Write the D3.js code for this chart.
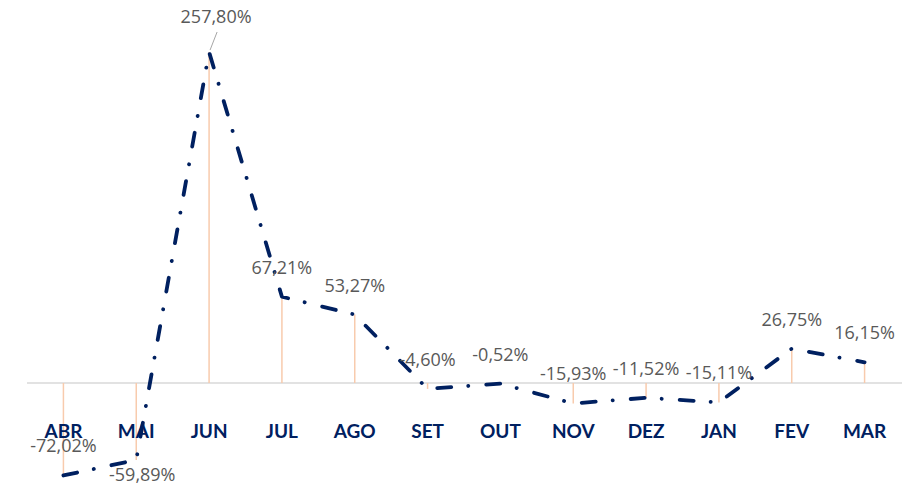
<!DOCTYPE html>
<html>
<head>
<meta charset="utf-8">
<script src="https://cdn.jsdelivr.net/npm/d3@7"></script>
<style>
  body { margin: 0; background: #fff; }
  svg { display: block; }
</style>
</head>
<body>
<div class="container"></div>
<script>
var months = ['ABR', 'MAI', 'JUN', 'JUL', 'AGO', 'SET', 'OUT', 'NOV', 'DEZ', 'JAN', 'FEV', 'MAR'];
var values = [-72.02, -59.89, 257.80, 67.21, 53.27, -4.60, -0.52, -15.93, -11.52, -15.11, 26.75, 16.15];
var labelBelow = ['MAI'];

var WIDTH = 920;
var HEIGHT = 485;

var translate = function (x, y) {
    return 'translate(' + x + ', ' + y + ')';
};

var fmt = function (v) {
    return v.toFixed(2).replace('.', ',') + '%';
};

var visualize = function () {
    var svg = d3.select('.container')
        .append('svg')
        .attr('width', WIDTH)
        .attr('height', HEIGHT);

    var xScale = d3.scaleBand().domain(months).range([27, 901]);
    var yScale = d3.scaleLinear().domain([0, 257.8]).range([383, 52]);
    var cx = function (m) { return xScale(m) + xScale.bandwidth() / 2; };

    // zero line
    svg.append('line')
        .attr('x1', 27).attr('x2', 902)
        .attr('y1', yScale(0)).attr('y2', yScale(0))
        .attr('stroke', '#d9d9d9')
        .attr('stroke-width', 1.3);

    // drop lines
    svg.append('g').selectAll('line')
        .data(values)
        .enter()
        .append('line')
        .attr('x1', function (d, i) { return cx(months[i]); })
        .attr('x2', function (d, i) { return cx(months[i]); })
        .attr('y1', yScale(0))
        .attr('y2', function (d) { return yScale(d); })
        .attr('stroke', '#f8cbad')
        .attr('stroke-width', 1.5);

    // category labels
    var xAxis = d3.axisBottom(xScale).tickSize(0).tickPadding(0);
    var ax = svg.append('g')
        .attr('transform', translate(0, 424))
        .call(xAxis);
    ax.select('.domain').remove();
    ax.selectAll('text')
        .attr('dy', 0)
        .attr('y', 14)
        .attr('font-family', 'Lato, "Open Sans", sans-serif')
        .attr('font-weight', 'bold')
        .attr('font-size', 19)
        .attr('fill', '#002060');

    // main line
    var line = d3.line()
        .x(function (d, i) { return cx(months[i]); })
        .y(function (d) { return yScale(d); });

    svg.append('path')
        .datum(values)
        .attr('d', line)
        .attr('fill', 'none')
        .attr('stroke', '#002060')
        .attr('stroke-width', 3.8)
        .attr('stroke-linecap', 'round')
        .attr('stroke-linejoin', 'round')
        .attr('stroke-dasharray', '14,17,0.1,18');

    // leader line for JUN
    var jun = months.indexOf('JUN');
    svg.append('line')
        .attr('x1', cx('JUN') + 8).attr('y1', yScale(values[jun]) - 20)
        .attr('x2', cx('JUN') + 1).attr('y2', yScale(values[jun]) - 2)
        .attr('stroke', '#a6a6a6')
        .attr('stroke-width', 1);

    // value labels
    svg.append('g').selectAll('text')
        .data(values)
        .enter()
        .append('text')
        .attr('x', function (d, i) {
            var m = months[i];
            if (m === 'JUN') return cx(m) + 7;
            if (labelBelow.indexOf(m) >= 0) return cx(m) + 6;
            return cx(m);
        })
        .attr('y', function (d, i) {
            var m = months[i];
            if (m === 'JUN') return yScale(d) - 29;
            if (labelBelow.indexOf(m) >= 0) return yScale(d) + 21;
            return yScale(d) - 23;
        })
        .attr('text-anchor', 'middle')
        .attr('font-family', '"Open Sans", sans-serif')
        .attr('font-size', 18)
        .attr('fill', '#595959')
        .text(function (d) { return fmt(d); });
};

window.onload = visualize;
</script>
</body>
</html>
